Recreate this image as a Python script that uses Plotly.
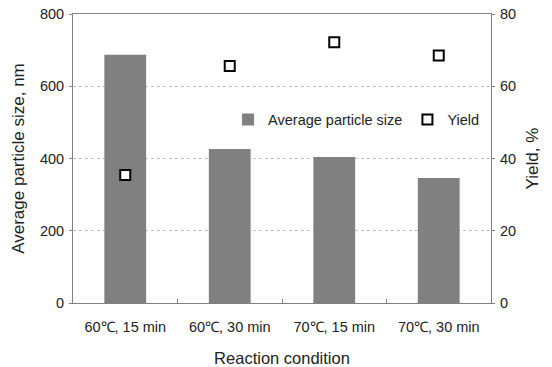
import plotly.graph_objects as go

categories = ["60\u2103, 15 min", "60\u2103, 30 min", "70\u2103, 15 min", "70\u2103, 30 min"]
particle_size = [687, 426, 404, 346]
yield_pct = [35.4, 65.6, 72.2, 68.5]

FONT = "Liberation Sans, Arial, sans-serif"

fig = go.Figure()
fig.add_trace(go.Bar(
    x=categories, y=particle_size, name="Average particle size",
    marker=dict(color="#808080", line=dict(width=0)), width=0.4,
))
fig.add_trace(go.Scatter(
    x=categories, y=yield_pct, name="Yield", yaxis="y2", mode="markers",
    marker=dict(symbol="square", size=10, color="white",
                line=dict(color="black", width=2)),
))

fig.update_layout(
    width=552, height=367,
    margin=dict(l=73, r=61, t=14, b=64),
    paper_bgcolor="white", plot_bgcolor="white",
    font=dict(family=FONT, size=14, color="#222"),
    showlegend=True,
    legend=dict(orientation="h", x=0.371, y=0.635, xanchor="left", yanchor="middle",
                bgcolor="rgba(0,0,0,0)", font=dict(size=14.5), itemwidth=30,
                tracegroupgap=0),
    xaxis=dict(
        showline=True, linecolor="#808080", linewidth=1, mirror=True,
        ticks="inside", ticklen=4, tickcolor="#808080", tickson="boundaries",
        title=dict(text="Reaction condition", font=dict(size=16.5), standoff=18),
        tickfont=dict(size=14.5), ticklabelstandoff=11, automargin=False,
    ),
    yaxis=dict(
        range=[0, 800], dtick=200, showline=True, linecolor="#808080", linewidth=1,
        ticks="outside", ticklen=3, tickcolor="#808080",
        showgrid=True, gridcolor="#c4c4c4", griddash="dot", gridwidth=1,
        zeroline=False, automargin=False,
        title=dict(text="Average particle size, nm", font=dict(size=17), standoff=10),
        tickfont=dict(size=14.5), ticklabelstandoff=2,
    ),
    yaxis2=dict(
        range=[0, 80], dtick=20, overlaying="y", side="right",
        showline=True, linecolor="#808080", linewidth=1,
        ticks="outside", ticklen=3, tickcolor="#808080", showgrid=False, zeroline=False,
        automargin=False,
        title=dict(text="Yield, %", font=dict(size=17), standoff=11),
        tickfont=dict(size=14.5), ticklabelstandoff=2,
    ),
)

fig.write_html("out.html")
